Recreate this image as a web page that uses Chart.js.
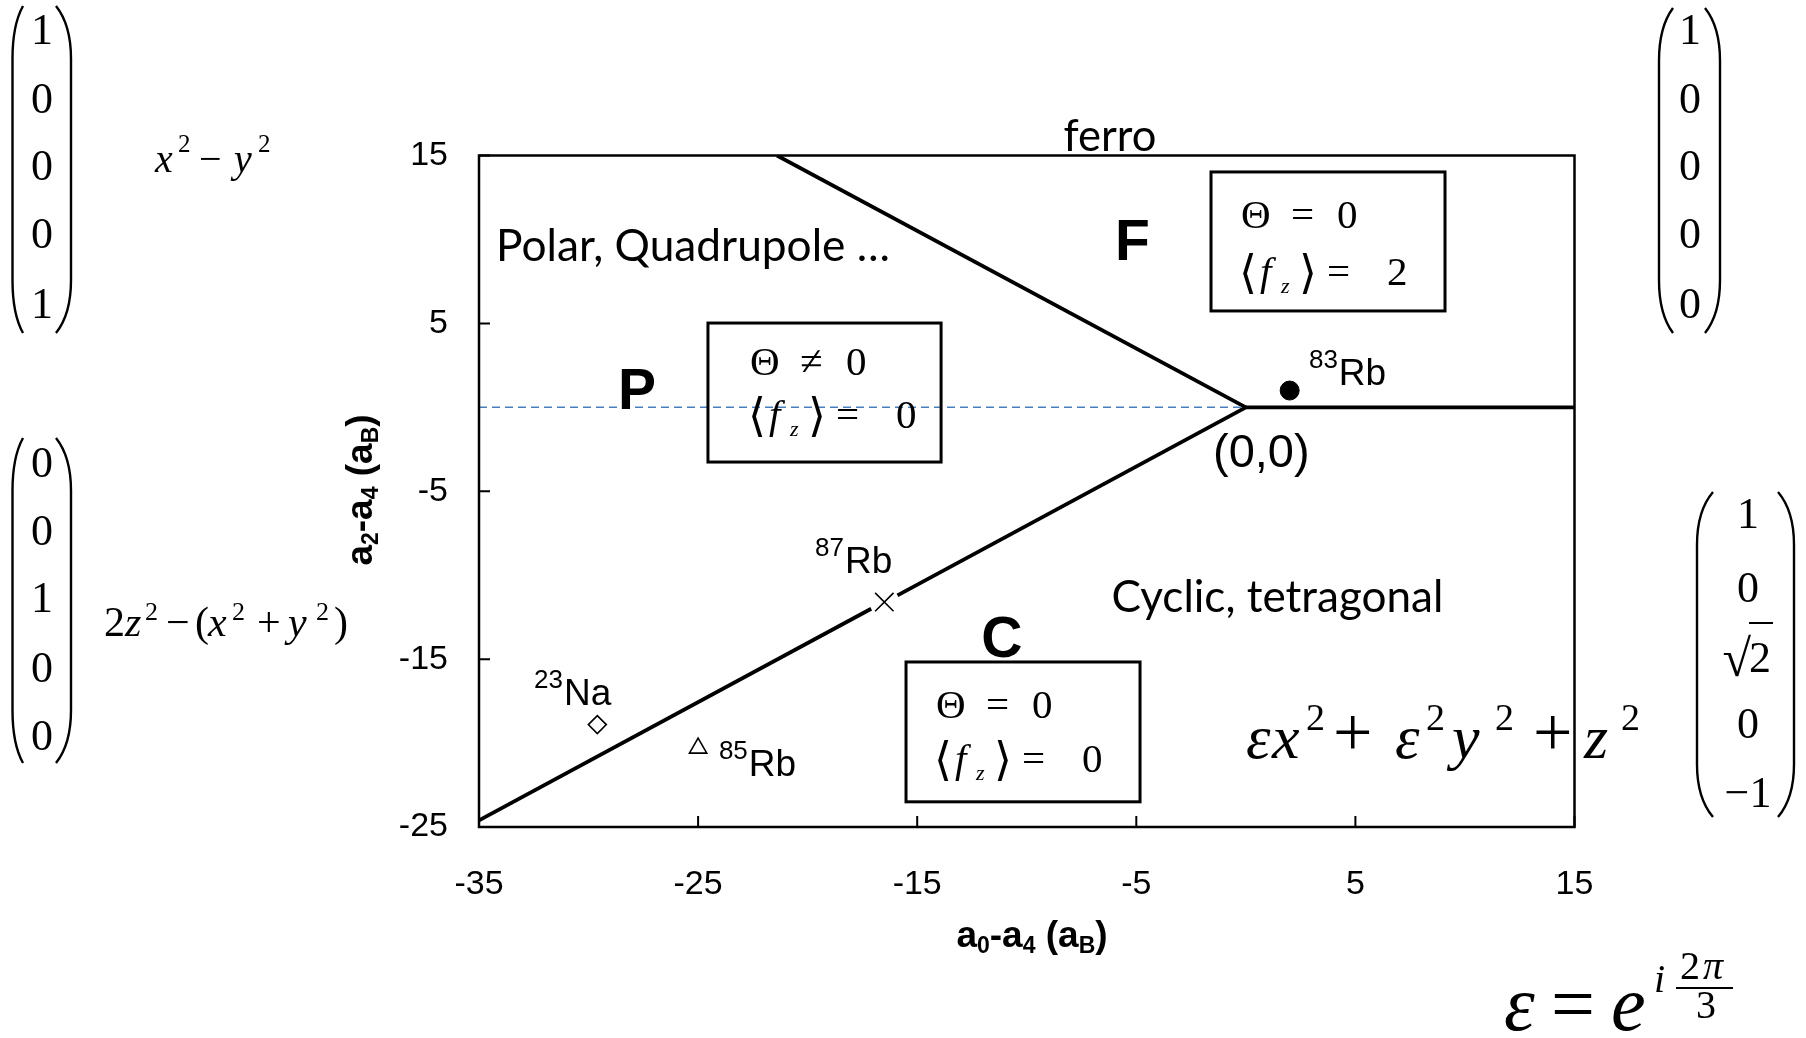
<!DOCTYPE html>
<html lang="en">
<head>
<meta charset="utf-8">
<title>Spin-2 condensate phase diagram</title>
<script src="https://cdn.jsdelivr.net/npm/chart.js@4.4.1/dist/chart.umd.min.js"></script>
<style>
  html, body { margin: 0; padding: 0; background: #ffffff; }
  #stage { position: relative; width: 1806px; height: 1038px; }
  canvas { display: block; }
</style>
</head>
<body>
<div id="stage"><canvas id="phase" width="1806" height="1038"></canvas></div>
<script>
// Axis ticks, in Bohr radii
const xTickValues = [-35, -25, -15, -5, 5, 15];
const yTickValues = [-25, -15, -5, 5, 15];

// Phase boundaries in the (a0-a4, a2-a4) plane
const polarFerroLine = [{ x: -21.4, y: 15 }, { x: 0, y: 0 }];
const polarCyclicLineA = [{ x: -35, y: -24.6 }, { x: -17.1, y: -12.0 }];
const polarCyclicLineB = [{ x: -15.9, y: -11.2 }, { x: 0, y: 0 }];
const ferroCyclicLine = [{ x: 0, y: 0 }, { x: 15, y: 0 }];
const zeroLine = [{ x: -35, y: 0 }, { x: 0, y: 0 }];

// Atomic species
const rb87 = [{ x: -16.5, y: -11.6 }];
const na23 = [{ x: -29.6, y: -18.9 }];
const rb85 = [{ x: -25.0, y: -20.3 }];
const rb83 = [{ x: 2.0, y: 1.0 }];

const SANS = '"Liberation Sans", Arial, Helvetica, sans-serif';
const SERIF = '"Liberation Serif", "Times New Roman", "DejaVu Serif", "DejaVu Sans", serif';
const CALI = 'Lato, "Open Sans", sans-serif';
const RM = s => `${s}px ${SERIF}`;
const IT = s => `italic ${s}px ${SERIF}`;
const BS = s => `bold ${s}px ${SANS}`;

function put(ctx, t, x, y, font, align) {
  ctx.font = font;
  ctx.textAlign = align || 'left';
  ctx.textBaseline = 'alphabetic';
  ctx.fillText(t, x, y);
}
function runWidth(ctx, parts) {
  let w = 0;
  for (const p of parts) { ctx.font = p.f; w += ctx.measureText(p.t).width + (p.gap || 0); }
  return w;
}
function drawRun(ctx, parts, x, y) {
  let cx = x;
  for (const p of parts) {
    put(ctx, p.t, cx, y + (p.dy || 0), p.f);
    cx += ctx.measureText(p.t).width + (p.gap || 0);
  }
}
function fitSize(ctx, t, family, width) {
  ctx.font = `100px ${family}`;
  return 100 * width / ctx.measureText(t).width;
}
function paren(ctx, outer, inner, top, bottom) {
  const h = 44;
  ctx.beginPath();
  ctx.moveTo(inner, top);
  ctx.bezierCurveTo(outer + (inner - outer) * 0.3, top + h * 0.3, outer, top + h * 0.7, outer, top + h * 1.2);
  ctx.lineTo(outer, bottom - h * 1.2);
  ctx.bezierCurveTo(outer, bottom - h * 0.7, outer + (inner - outer) * 0.3, bottom - h * 0.3, inner, bottom);
  ctx.stroke();
}
function vector(ctx, m) {
  ctx.save();
  ctx.lineWidth = 2.4;
  ctx.strokeStyle = '#000';
  paren(ctx, m.lo, m.li, m.top, m.bottom);
  paren(ctx, m.ro, m.ri, m.top, m.bottom);
  m.rows.forEach((r, i) => {
    const base = m.centers[i] + 15;
    if (r === '√2') {
      ctx.font = RM(44);
      const w2 = ctx.measureText('2').width;
      put(ctx, '2', m.cx + 12 - w2 / 2, base, RM(44));
      put(ctx, '√', m.cx + 12 - w2 / 2 + 2, base + 4, RM(52), 'right');
      ctx.lineWidth = 2;
      ctx.beginPath();
      ctx.moveTo(m.cx + 12 - w2 / 2, base - 49);
      ctx.lineTo(m.cx + 12 + w2 / 2 + 2, base - 49);
      ctx.stroke();
    } else {
      put(ctx, r, m.cx, base, RM(44), 'center');
    }
  });
  ctx.restore();
}

// Region texts, labels, order-parameter boxes and the orbital formulas
const annotations = {
  id: 'annotations',
  afterDatasetsDraw(chart) {
    const ctx = chart.ctx;
    const sx = chart.scales.x, sy = chart.scales.y;
    const a = chart.chartArea;
    const X = v => sx.getPixelForValue(v), Y = v => sy.getPixelForValue(v);
    ctx.save();
    ctx.fillStyle = '#000';
    ctx.strokeStyle = '#000';

    // frame and inward ticks
    ctx.lineWidth = 2.5;
    ctx.strokeRect(a.left, a.top, a.right - a.left, a.bottom - a.top);
    ctx.lineWidth = 2;
    ctx.beginPath();
    xTickValues.forEach(v => { ctx.moveTo(X(v), a.bottom); ctx.lineTo(X(v), a.bottom - 11); });
    yTickValues.forEach(v => { ctx.moveTo(a.left, Y(v)); ctx.lineTo(a.left + 11, Y(v)); });
    ctx.stroke();

    // axis titles
    const title = sub => [
      { t: 'a', f: BS(37) }, { t: sub, f: BS(23), dy: 6 }, { t: '-', f: BS(37) },
      { t: 'a', f: BS(37) }, { t: '4', f: BS(23), dy: 6 }, { t: ' (', f: BS(37) },
      { t: 'a', f: BS(37) }, { t: 'B', f: BS(23), dy: 6 }, { t: ')', f: BS(37) }
    ];
    const xTitle = title('0'), yTitle = title('2');
    drawRun(ctx, xTitle, 1032 - runWidth(ctx, xTitle) / 2, 947);
    ctx.save();
    ctx.translate(372, 490);
    ctx.rotate(-Math.PI / 2);
    drawRun(ctx, yTitle, -runWidth(ctx, yTitle) / 2, 0);
    ctx.restore();

    // region names
    [
      { t: 'ferro', x: -6.2, y: 15.27, w: 93, align: 'center' },
      { t: 'Polar, Quadrupole …', x: -34.22, y: 8.72, w: 394, align: 'left' },
      { t: 'Cyclic, tetragonal', x: -6.13, y: -12.19, w: 332, align: 'left' }
    ].forEach(r => {
      const s = fitSize(ctx, r.t, CALI, r.w);
      put(ctx, r.t, X(r.x), Y(r.y), `${s}px ${CALI}`, r.align);
    });
    put(ctx, 'F', X(-5.97), Y(8.78), BS(57));
    put(ctx, 'P', X(-28.66), Y(-0.1), BS(57));
    put(ctx, 'C', X(-11.14), Y(-14.87), BS(57), 'center');
    put(ctx, '(0,0)', X(-1.5), Y(-3.55), `47px ${SANS}`);

    // species labels
    [
      { m: '87', s: 'Rb', x: -19.66, y: -9.87 },
      { m: '23', s: 'Na', x: -32.49, y: -17.73 },
      { m: '85', s: 'Rb', x: -24.05, y: -21.96 },
      { m: '83', s: 'Rb', x: 2.88, y: 1.33 }
    ].forEach(l => {
      drawRun(ctx, [
        { t: l.m, f: `26px ${SANS}`, dy: -17, gap: 1 },
        { t: l.s, f: `37px ${SANS}` }
      ], X(l.x), Y(l.y));
    });

    // order-parameter boxes
    [
      { x0: -24.55, y0: 5.02, x1: -13.91, y1: -3.26, op: '≠', fz: '0', tx: 42, b1: 52, b2: 105 },
      { x0: -1.59, y0: 14.02, x1: 9.09, y1: 5.74, op: '=', fz: '2', tx: 30, b1: 56, b2: 113 },
      { x0: -15.51, y0: -15.17, x1: -4.83, y1: -23.5, op: '=', fz: '0', tx: 30, b1: 56, b2: 110 }
    ].forEach(b => {
      const L = X(b.x0), T = Y(b.y0);
      ctx.lineWidth = 3;
      ctx.strokeRect(L, T, X(b.x1) - L, Y(b.y1) - T);
      const l = L + b.tx, r1 = T + b.b1, r2 = T + b.b2;
      put(ctx, 'Θ', l, r1, RM(41));
      put(ctx, b.op, l + 50, r1, RM(41));
      put(ctx, '0', l + 96, r1, RM(41));
      put(ctx, '⟨', l - 2, r2 + 3, RM(46));
      put(ctx, 'f', l + 19, r2, IT(41));
      put(ctx, 'z', l + 40, r2 + 8, IT(22));
      put(ctx, '⟩', l + 58, r2 + 3, RM(46));
      put(ctx, '=', l + 86, r2, RM(41));
      put(ctx, b.fz, l + 146, r2, RM(41));
    });

    // orbital formulas
    const formula = [
      { t: 'x', f: IT(40), x: 155, y: 172 }, { t: '2', f: RM(25), x: 178, y: 152 },
      { t: '−', f: RM(40), x: 199, y: 172 }, { t: 'y', f: IT(40), x: 234, y: 172 },
      { t: '2', f: RM(25), x: 258, y: 152 },

      { t: '2', f: RM(42), x: 104, y: 636 }, { t: 'z', f: IT(42), x: 125, y: 636 },
      { t: '2', f: RM(26), x: 145, y: 620 }, { t: '−', f: RM(42), x: 166, y: 636 },
      { t: '(', f: RM(42), x: 195, y: 636 }, { t: 'x', f: IT(42), x: 208, y: 636 },
      { t: '2', f: RM(26), x: 232, y: 620 }, { t: '+', f: RM(42), x: 257, y: 636 },
      { t: 'y', f: IT(42), x: 288, y: 636 }, { t: '2', f: RM(26), x: 316, y: 620 },
      { t: ')', f: RM(42), x: 334, y: 636 },

      { t: 'ε', f: IT(62), x: 1246, y: 758 }, { t: 'x', f: IT(62), x: 1272, y: 758 },
      { t: '2', f: RM(38), x: 1306, y: 730 }, { t: '+', f: RM(70), x: 1333, y: 756 },
      { t: 'ε', f: IT(62), x: 1395, y: 758 }, { t: '2', f: RM(38), x: 1426, y: 730 },
      { t: 'y', f: IT(62), x: 1452, y: 758 }, { t: '2', f: RM(38), x: 1495, y: 730 },
      { t: '+', f: RM(70), x: 1533, y: 756 }, { t: 'z', f: IT(62), x: 1584, y: 758 },
      { t: '2', f: RM(38), x: 1621, y: 730 },

      { t: 'ε', f: IT(78), x: 1504, y: 1030 }, { t: '=', f: RM(78), x: 1551, y: 1030 },
      { t: 'e', f: IT(78), x: 1611, y: 1030 }, { t: 'i', f: IT(40), x: 1654, y: 992 },
      { t: '2', f: RM(40), x: 1680, y: 979 }, { t: 'π', f: IT(40), x: 1703, y: 979 },
      { t: '3', f: RM(40), x: 1696, y: 1018 }
    ];
    formula.forEach(p => put(ctx, p.t, p.x, p.y, p.f));
    ctx.lineWidth = 2;
    ctx.beginPath();
    ctx.moveTo(1676, 988);
    ctx.lineTo(1733, 988);
    ctx.stroke();

    // spin-state vectors
    const topRows = [29, 98, 165, 233, 303];
    vector(ctx, { cx: 42, centers: topRows, rows: ['1', '0', '0', '0', '1'], lo: 12.5, li: 23, ri: 56, ro: 71, top: 6, bottom: 333 });
    vector(ctx, { cx: 42, centers: [462, 530, 597, 667, 735], rows: ['0', '0', '1', '0', '0'], lo: 12.5, li: 23, ri: 56, ro: 71, top: 438, bottom: 763 });
    vector(ctx, { cx: 1690, centers: topRows, rows: ['1', '0', '0', '0', '0'], lo: 1659, li: 1673, ri: 1705, ro: 1720, top: 8, bottom: 333 });
    vector(ctx, { cx: 1748, centers: [513, 587, 657, 723, 792], rows: ['1', '0', '√2', '0', '−1'], lo: 1697, li: 1713, ri: 1778, ro: 1794, top: 492, bottom: 817 });

    ctx.restore();
  }
};

const lineStyle = { showLine: true, pointRadius: 0, borderColor: '#000', borderWidth: 3.8, fill: false };

new Chart(document.getElementById('phase'), {
  type: 'scatter',
  data: {
    datasets: [
      { label: 'a2-a4 = 0', data: zeroLine, showLine: true, pointRadius: 0, borderColor: '#4a7ebb', borderWidth: 1.5, borderDash: [8, 5] },
      { label: 'P-F boundary', data: polarFerroLine, ...lineStyle },
      { label: 'P-C boundary', data: polarCyclicLineA, ...lineStyle },
      { label: 'P-C boundary ', data: polarCyclicLineB, ...lineStyle },
      { label: 'F-C boundary', data: ferroCyclicLine, ...lineStyle },
      { label: '87Rb', data: rb87, pointStyle: 'crossRot', pointRadius: 13, borderColor: '#000', borderWidth: 1.6, backgroundColor: '#fff' },
      { label: '23Na', data: na23, pointStyle: 'rectRot', pointRadius: 9, borderColor: '#000', borderWidth: 1.6, backgroundColor: '#fff' },
      { label: '85Rb', data: rb85, pointStyle: 'triangle', pointRadius: 10, borderColor: '#000', borderWidth: 1.6, backgroundColor: '#fff' },
      { label: '83Rb', data: rb83, pointStyle: 'circle', pointRadius: 9.5, borderColor: '#000', borderWidth: 1, backgroundColor: '#000' }
    ]
  },
  options: {
    responsive: false,
    animation: false,
    devicePixelRatio: 1,
    layout: { padding: { left: 0, right: 231.5, top: 155.5, bottom: 0 } },
    plugins: { legend: { display: false }, tooltip: { enabled: false } },
    scales: {
      x: {
        type: 'linear', position: 'bottom', min: -35, max: 15,
        afterFit: s => { s.height = 211; },
        afterBuildTicks: s => { s.ticks = xTickValues.map(v => ({ value: v })); },
        grid: { display: false, drawTicks: false },
        border: { display: false },
        ticks: { color: '#000', font: { family: SANS, size: 34 }, padding: 37, maxRotation: 0, autoSkip: false }
      },
      y: {
        type: 'linear', position: 'left', min: -25, max: 15,
        afterFit: s => { s.width = 479; },
        afterBuildTicks: s => { s.ticks = yTickValues.map(v => ({ value: v })); },
        grid: { display: false, drawTicks: false },
        border: { display: false },
        ticks: { color: '#000', font: { family: SANS, size: 34 }, padding: 31, autoSkip: false }
      }
    }
  },
  plugins: [annotations]
});
</script>
</body>
</html>
